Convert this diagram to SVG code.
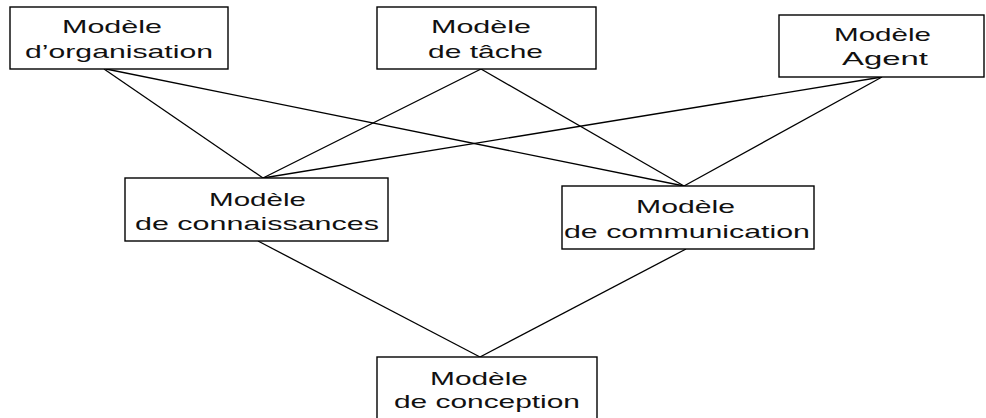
<svg xmlns="http://www.w3.org/2000/svg" width="986" height="418" viewBox="0 0 986 418">
<style>
.box{fill:#fff;stroke:#000;stroke-width:1.4}
.ln{stroke:#000;stroke-width:1.3;fill:none}
.t{font-family:"Liberation Sans",Arial,sans-serif;font-size:19px;fill:#111}
</style>
<rect width="986" height="418" fill="#fff"/>
<g id="connectors">
<line class="ln" x1="104" y1="69" x2="263" y2="178"/>
<line class="ln" x1="106" y1="69" x2="684" y2="186"/>
<line class="ln" x1="481" y1="69" x2="263" y2="178"/>
<line class="ln" x1="481" y1="69" x2="684" y2="186"/>
<line class="ln" x1="882" y1="77" x2="263" y2="178"/>
<line class="ln" x1="882" y1="77" x2="684" y2="186"/>
<line class="ln" x1="258" y1="241" x2="480" y2="357"/>
<line class="ln" x1="686" y1="249" x2="480" y2="357"/>
</g>
<g id="org">
<rect class="box" x="10" y="7" width="218" height="62"/>
<text class="t" x="62" y="33" textLength="100" lengthAdjust="spacingAndGlyphs">Modèle</text>
<text class="t" x="25" y="58" textLength="188" lengthAdjust="spacingAndGlyphs">d’organisation</text>
</g>
<g id="tache">
<rect class="box" x="377" y="7" width="219" height="62"/>
<text class="t" x="431" y="33" textLength="100" lengthAdjust="spacingAndGlyphs">Modèle</text>
<text class="t" x="428" y="58" textLength="115" lengthAdjust="spacingAndGlyphs">de tâche</text>
</g>
<g id="agent">
<rect class="box" x="779" y="15" width="205" height="62"/>
<text class="t" x="834" y="41" textLength="97" lengthAdjust="spacingAndGlyphs">Modèle</text>
<text class="t" x="842" y="65" textLength="86" lengthAdjust="spacingAndGlyphs">Agent</text>
</g>
<g id="connaissances">
<rect class="box" x="125" y="178" width="263" height="63"/>
<text class="t" x="209" y="206" textLength="97" lengthAdjust="spacingAndGlyphs">Modèle</text>
<text class="t" x="135" y="230" textLength="244" lengthAdjust="spacingAndGlyphs">de connaissances</text>
</g>
<g id="communication">
<rect class="box" x="562" y="186" width="252" height="63"/>
<text class="t" x="636" y="213" textLength="99" lengthAdjust="spacingAndGlyphs">Modèle</text>
<text class="t" x="564" y="238" textLength="246" lengthAdjust="spacingAndGlyphs">de communication</text>
</g>
<g id="conception">
<rect class="box" x="377" y="357" width="220" height="70"/>
<text class="t" x="430" y="385" textLength="98" lengthAdjust="spacingAndGlyphs">Modèle</text>
<text class="t" x="394" y="408" textLength="186" lengthAdjust="spacingAndGlyphs">de conception</text>
</g>
</svg>
